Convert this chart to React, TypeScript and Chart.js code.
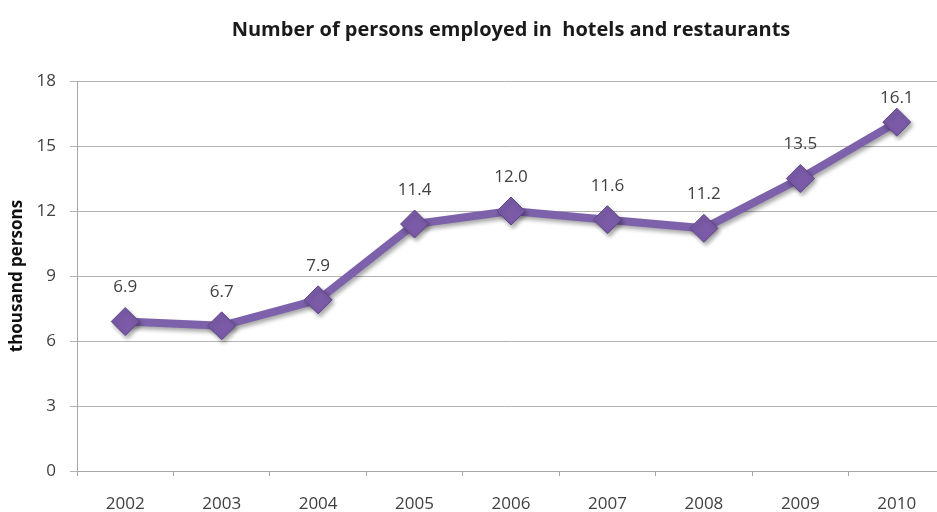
import { useEffect, useRef } from "react";
import { Chart, registerables } from "chart.js";

Chart.register(...registerables);

const years = ["2002", "2003", "2004", "2005", "2006", "2007", "2008", "2009", "2010"];
const employed = [6.9, 6.7, 7.9, 11.4, 12.0, 11.6, 11.2, 13.5, 16.1];
const yMin = 0;
const yMax = 18;
const yStep = 3;
const chartTitle = "Number of persons employed in  hotels and restaurants";
const yTitle = "thousand persons";

const FONT = "'Open Sans', 'Noto Sans', sans-serif";

export default function App() {
  const ref = useRef<HTMLCanvasElement>(null);

  useEffect(() => {
    const canvas = ref.current;
    if (!canvas) return;

    const shadowPlugin = {
      id: "markerShadow",
      beforeDatasetsDraw(chart: any) {
        const ctx = chart.ctx;
        ctx.save();
        ctx.shadowColor = "rgba(0,0,0,0.35)";
        ctx.shadowBlur = 4;
        ctx.shadowOffsetX = 2;
        ctx.shadowOffsetY = 3;
      },
      afterDatasetsDraw(chart: any) {
        chart.ctx.restore();
      },
    };

    const labelPlugin = {
      id: "valueLabels",
      afterDatasetsDraw(chart: any) {
        const ctx = chart.ctx;
        const meta = chart.getDatasetMeta(0);
        const top = chart.chartArea.top;
        ctx.save();
        ctx.font = `17px ${FONT}`;
        ctx.fillStyle = "#404040";
        ctx.textAlign = "center";
        ctx.textBaseline = "middle";
        meta.data.forEach((pt: any, i: number) => {
          const y = Math.max(pt.y - 34, top + 17);
          ctx.fillText(employed[i].toFixed(1), pt.x, y);
        });
        ctx.restore();
      },
    };

    const chart = new Chart(canvas, {
      type: "line",
      data: {
        labels: years,
        datasets: [
          {
            data: employed,
            borderColor: "#7d61ab",
            borderWidth: 8,
            backgroundColor: "#7a5aa6",
            pointStyle: "rectRot",
            pointRadius: 14,
            pointBackgroundColor: "#7b5ba8",
            pointBorderColor: "#5f4589",
            pointBorderWidth: 1,
            tension: 0,
            fill: false,
          },
        ],
      },
      options: {
        responsive: false,
        animation: false,
        layout: { padding: { left: 0, right: 6, top: 0, bottom: 0 } },
        plugins: {
          legend: { display: false },
          tooltip: { enabled: false },
          title: {
            display: true,
            text: chartTitle,
            fullSize: false,
            color: "#1a1a1a",
            font: { family: FONT, size: 20, weight: "bold" },
            padding: { top: 18, bottom: 39 },
          },
        },
        scales: {
          x: {
            offset: true,
            grid: {
              offset: true,
              drawOnChartArea: false,
              drawTicks: true,
              tickLength: 5,
              color: "#a6a6a6",
            },
            border: { color: "#a6a6a6", width: 1 },
            ticks: {
              color: "#404040",
              font: { family: FONT, size: 17 },
              padding: 18,
              maxRotation: 0,
            },
            afterFit(scale: any) {
              scale.height = 41;
            },
          },
          y: {
            min: yMin,
            max: yMax,
            ticks: {
              stepSize: yStep,
              color: "#404040",
              font: { family: FONT, size: 17 },
              padding: 14,
            },
            grid: {
              color: "#b3b3b3",
              tickLength: 7,
            },
            border: { color: "#a6a6a6", width: 1 },
            title: {
              display: true,
              text: yTitle,
              color: "#111",
              font: { family: FONT, size: 17, weight: "bold" },
              padding: { top: 7, bottom: 0 },
            },
            afterFit(scale: any) {
              scale.width = 77;
            },
          },
        },
      },
      plugins: [shadowPlugin, labelPlugin],
    });

    return () => chart.destroy();
  }, []);

  return (
    <div
      style={{
        position: "fixed",
        left: 0,
        top: 0,
        width: 937,
        height: 512,
        overflow: "hidden",
        background: "#fff",
      }}
    >
      <canvas ref={ref} width={960} height={512} style={{ display: "block" }} />
    </div>
  );
}
